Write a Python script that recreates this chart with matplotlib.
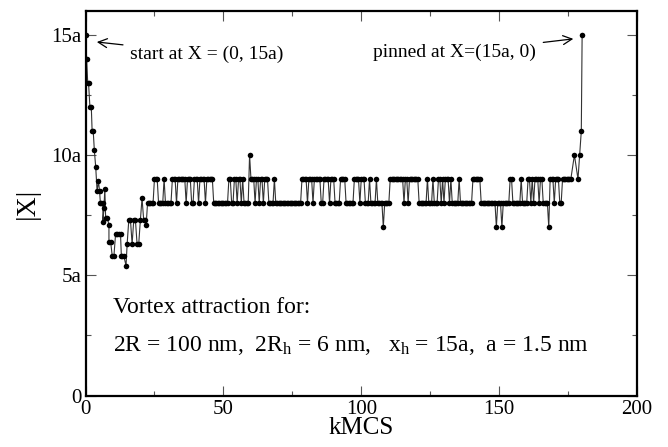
import numpy as np
import matplotlib
matplotlib.use("Agg")
import matplotlib.pyplot as plt
from matplotlib.ticker import MultipleLocator, FixedLocator

plt.rcParams['font.family'] = ['Liberation Serif', 'DejaVu Serif']
plt.rcParams['mathtext.fontset'] = 'custom'
plt.rcParams['mathtext.rm'] = 'Liberation Serif'
plt.rcParams['mathtext.it'] = 'Liberation Serif:italic'

# early relaxation from the start position (kMCS, |X| in units of a)
early_t = [0.0, 0.4, 0.8, 1.1, 1.6, 2.1, 2.4, 2.8, 3.2, 3.7, 4.2, 4.7, 5.1, 5.4,
           5.8, 6.3, 6.3, 6.7, 7.0, 7.3, 7.9, 8.5, 8.5, 9.1, 9.7, 10.3, 10.9,
           11.5, 12.1, 12.7, 13.0, 13.3, 13.9, 14.7, 15.1, 15.7, 16.3, 16.9,
           17.5, 18.1, 18.7, 19.3, 19.9, 20.5, 21.1, 21.5, 22.0]
early_y = [15, 14, 13, 13, 12, 12, 11, 11, 10.2, 9.5, 8.5, 8.9, 8.5, 8.0,
           8.0, 8.0, 7.2, 7.8, 8.6, 7.4, 7.4, 7.1, 6.4, 6.4, 5.8, 5.8, 6.7,
           6.7, 6.7, 6.7, 5.8, 5.8, 5.8, 5.4, 6.3, 7.3, 7.3, 6.3, 7.3, 7.3,
           6.3, 6.3, 7.3, 8.2, 7.3, 7.3, 7.1]

# plateau: sampled every 0.5 kMCS from 22.5, stored as (level, number of samples)
plateau_start = 22.5
plateau_dt = 0.5
plateau_levels = [8, 9, 8, 9, 8, 9, 8, 9, 8, 9, 8, 9, 8, 9, 8, 9,
                  8, 9, 8, 9, 8, 9, 8, 9, 8, 10,
                  9, 8, 9, 8, 9, 8, 9, 8, 9, 8,
                  9, 8, 9, 8, 9, 8, 9, 8, 9,
                  8, 9, 8, 9, 8, 9, 8, 9, 8, 9, 8, 7, 8,
                  9, 8, 9, 8, 9, 8, 9, 8, 9, 8, 9, 8,
                  9, 8, 9, 8, 9, 8, 9, 8, 9, 8, 7, 8, 7, 8,
                  9, 8, 9, 8, 9, 8, 9, 8, 9, 8, 9, 8, 7,
                  9, 8, 9, 8, 9]
plateau_counts = [5, 3, 4, 1, 5, 3, 1, 6, 1, 3, 2, 3, 1, 4, 1, 5,
                  11, 2, 2, 2, 1, 2, 1, 1, 4, 1,
                  3, 1, 2, 1, 2, 1, 3, 4, 1, 19,
                  4, 1, 3, 1, 5, 2, 4, 1, 3,
                  4, 4, 6, 4, 1, 3, 3, 1, 4, 1, 4, 1, 4,
                  10, 1, 2, 1, 7, 6, 1, 3, 1, 3, 2, 1,
                  1, 1, 3, 1, 1, 5, 1, 9, 6, 11, 1, 3, 1, 5,
                  2, 6, 1, 4, 2, 1, 1, 1, 3, 1, 2, 4, 1,
                  3, 1, 3, 2, 7]

# final jump to the pinning site
tail_t = [177.3, 178.6, 179.2, 179.8, 180.1]
tail_y = [10, 9, 10, 11, 15]

plateau_y = np.repeat(plateau_levels, plateau_counts)
plateau_t = plateau_start + plateau_dt * np.arange(len(plateau_y))

t = np.concatenate([early_t, plateau_t, tail_t])
y = np.concatenate([early_y, plateau_y, tail_y])

fig = plt.figure(figsize=(6.68, 4.47), dpi=100)
ax = fig.add_axes([0.128, 0.1152, 0.8256, 0.8608])

ax.plot(t, y, color='#333333', lw=0.8, zorder=2)
ax.plot(t, y, 'o', color='black', ms=4, mew=0, zorder=3)

ax.set_xlim(0, 200)
ax.set_ylim(0, 16)
ax.xaxis.set_major_locator(MultipleLocator(50))
ax.xaxis.set_minor_locator(MultipleLocator(25))
ax.yaxis.set_major_locator(FixedLocator([0, 5, 10, 15]))
ax.yaxis.set_minor_locator(FixedLocator([2.5, 7.5, 12.5]))
ax.set_yticklabels(['0', '5a', '10a', '15a'])

ax.tick_params(which='both', direction='in', top=True, right=True,
               labelsize=15, width=0.8, color='#555555')
ax.tick_params(which='major', length=7.5, pad=3)
ax.tick_params(which='minor', length=3.8)
for s in ax.spines.values():
    s.set_linewidth(1.6)

ax.set_xlabel('kMCS', fontsize=18, labelpad=-1)
ax.set_ylabel('|X|', fontsize=20, labelpad=8)

ax.annotate('start at X = (0, 15a)', xy=(4.1, 14.7), xytext=(16.1, 14.2),
            fontsize=14, va='center', ha='left',
            arrowprops=dict(arrowstyle='->', color='black', lw=0.9,
                            mutation_scale=16, shrinkA=3, shrinkB=0))
ax.annotate('pinned at X=(15a, 0)', xy=(176.9, 14.83), xytext=(163.5, 14.25),
            fontsize=14, va='center', ha='right',
            arrowprops=dict(arrowstyle='->', color='black', lw=0.9,
                            mutation_scale=16, shrinkA=3, shrinkB=0))

ax.text(9.9, 3.65, 'Vortex attraction for:', fontsize=17, va='center')
ax.text(9.9, 2.1, r'2R = 100 nm,  2R$_\mathrm{h}$ = 6 nm,   x$_\mathrm{h}$ = 15a,  a = 1.5 nm',
        fontsize=17, va='center')

fig.savefig('out.png', dpi=100)
